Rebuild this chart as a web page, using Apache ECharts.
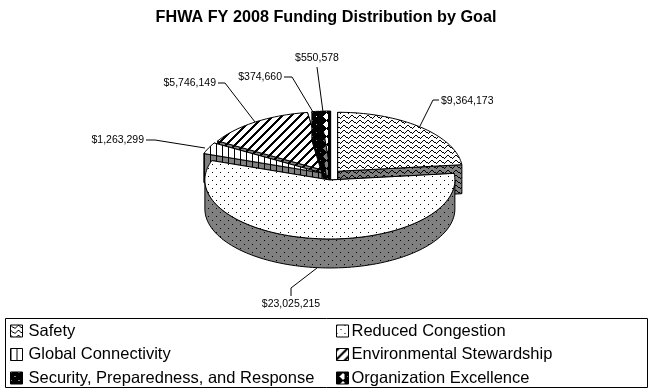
<!DOCTYPE html>
<html>
<head>
<meta charset="utf-8">
<style>html,body{margin:0;padding:0;background:#fff}#main{width:652px;height:392px}</style>
<script src="https://cdn.jsdelivr.net/npm/echarts@6/dist/echarts.min.js"></script>
</head>
<body>
<div id="main"></div>
<script>
// data
var categories = ['Safety', 'Reduced Congestion', 'Global Connectivity', 'Environmental Stewardship', 'Security, Preparedness, and Response', 'Organization Excellence'];
var funding = [9364173, 23025215, 1263299, 5746149, 374660, 550578];
var chartTitle = 'FHWA FY 2008 Funding Distribution by Goal';

// layout of the tilted pie
var cx = 331, cy = 175, rx = 125, ry = 59, depth = 29, explode = 10, tilt = 0.5;
// back slices first, Reduced Congestion goes on top of everything
var drawOrder = [3, 4, 5, 2, 0, 1];
// leader line bends and where the label sits, same order as categories
var leaders = [
    {bends: [[433, 100], [439, 100]], text: [441, 101], align: 'left', anchor: [420, 126]},
    {bends: [[291, 288], [291, 296]], text: [291, 304], align: 'center', anchor: [317, 268]},
    {bends: [[155, 140], [146, 140]], text: [144, 140], align: 'right', anchor: [205, 148]},
    {bends: [[225, 83], [218, 83]], text: [216, 83], align: 'right', anchor: [255, 122]},
    {bends: [[292, 77], [284, 77]], text: [282, 77], align: 'right', anchor: [313, 112]},
    {bends: [[317, 67]], text: [317, 58], align: 'center', anchor: [323, 112]}
];

function tile(w, h, bg, fg, test) {
    var c = document.createElement('canvas');
    c.width = w;
    c.height = h;
    var ctx = c.getContext('2d');
    ctx.fillStyle = bg;
    ctx.fillRect(0, 0, w, h);
    ctx.fillStyle = fg;
    for (var y = 0; y < h; y++) {
        for (var x = 0; x < w; x++) {
            if (test(x, y)) ctx.fillRect(x, y, 1, 1);
        }
    }
    return {image: c, repeat: 'repeat'};
}

var zig = [0, 1, 2, 2, 3, 2, 1, 0];
function waveTest(x, y) { return zig[x] === y; }
function dotTest(x, y) { return (x === 0 && y === 0) || (x === 4 && y === 4); }
function stripeTest(x) { return x === 0; }
function diagTest(x, y) { return (x + y) % 9 < 3; }
function diamondTest(x, y) { return Math.abs(x - 6 > 3 ? x - 14 : x - 6) + Math.abs(y - 4) > 3; }

var topFill = [
    tile(8, 5, '#fff', '#000', waveTest),
    tile(8, 8, '#fff', '#000', dotTest),
    tile(6, 1, '#fff', '#000', stripeTest),
    tile(9, 9, '#fff', '#000', diagTest),
    tile(8, 8, '#000', '#fff', dotTest),
    tile(8, 8, '#fff', '#000', diamondTest)
];
var sideFill = [
    tile(8, 5, '#808080', '#000', waveTest),
    tile(8, 8, '#808080', '#000', dotTest),
    tile(6, 1, '#808080', '#000', stripeTest),
    tile(9, 9, '#808080', '#000', diagTest),
    tile(8, 8, '#000', '#808080', dotTest),
    tile(8, 8, '#808080', '#000', diamondTest)
];

var total = funding.reduce(function (a, b) { return a + b; }, 0);
var starts = [], acc = 0;
funding.forEach(function (v) {
    starts.push(acc / total * 360);
    acc += v;
});

function money(v) {
    return '$' + String(v).replace(/\B(?=(\d{3})+$)/g, ',');
}

function onRim(ox, oy, deg) {
    var a = deg * Math.PI / 180;
    return [ox + rx * Math.sin(a), oy - ry * Math.cos(a)];
}

function arcPoints(ox, oy, from, to) {
    var pts = [];
    var n = Math.max(2, Math.ceil((to - from) / 2));
    for (var i = 0; i <= n; i++) pts.push(onRim(ox, oy, from + (to - from) * i / n));
    return pts;
}

function lowered(pts) {
    return pts.map(function (p) { return [p[0], p[1] + depth]; }).reverse();
}

function poly(points, fill) {
    return {
        type: 'polygon',
        shape: {points: points},
        style: {fill: fill, stroke: '#000', lineWidth: 1}
    };
}

function renderSlice(i, value) {
    var share = value / total * 360;
    var from = starts[i], to = from + share;
    var mid = (from + to) / 2 * Math.PI / 180;
    var ox = cx + explode * Math.sin(mid);
    var oy = cy - explode * tilt * Math.cos(mid);
    var apex = [ox, oy];
    var children = [];
    // the two cut faces
    var a = onRim(ox, oy, to), b = onRim(ox, oy, from);
    children.push(poly([apex, a, [a[0], a[1] + depth], [ox, oy + depth]], sideFill[i]));
    children.push(poly([apex, b, [b[0], b[1] + depth], [ox, oy + depth]], sideFill[i]));
    // outer wall, only the part facing the viewer
    var wallFrom = Math.max(from, 90), wallTo = Math.min(to, 270);
    if (wallTo > wallFrom) {
        var arc = arcPoints(ox, oy, wallFrom, wallTo);
        children.push(poly(arc.concat(lowered(arc)), sideFill[i]));
    }
    children.push(poly([apex].concat(arcPoints(ox, oy, from, to)), topFill[i]));
    return children;
}

function renderLeader(i, value) {
    var l = leaders[i];
    return [{
        type: 'polyline',
        shape: {points: [l.anchor].concat(l.bends)},
        style: {fill: 'none', stroke: '#000', lineWidth: 1}
    }, {
        type: 'text',
        style: {
            x: l.text[0], y: l.text[1], text: money(value),
            font: '10.5px "Liberation Sans"', fill: '#000',
            align: l.align, verticalAlign: 'middle'
        }
    }];
}

var series = categories.map(function (name, i) {
    return {
        name: name,
        type: 'custom',
        coordinateSystem: 'none',
        z: 2 + drawOrder.indexOf(i),
        silent: true,
        animation: false,
        data: [funding[i]],
        renderItem: function (params, api) {
            var v = api.value(0);
            return {type: 'group', children: renderSlice(i, v).concat(renderLeader(i, v))};
        }
    };
});

function legendItem(i) {
    return {
        name: categories[i],
        icon: 'rect',
        itemStyle: {color: topFill[i], borderColor: '#000', borderWidth: 1}
    };
}

function legendColumn(left, textPad, ids) {
    return {
        orient: 'vertical',
        left: left,
        top: 322,
        padding: 0,
        itemWidth: 12,
        itemHeight: 12,
        itemGap: 5.5,
        itemStyle: {borderColor: '#000', borderWidth: 1},
        selectedMode: false,
        textStyle: {color: '#000', fontFamily: '"Liberation Sans"', fontSize: 16.5, lineHeight: 18, padding: [0, 0, 0, textPad]},
        data: ids.map(legendItem)
    };
}

var myChart = echarts.init(document.getElementById('main'), null, {renderer: 'canvas'});
myChart.setOption({
    backgroundColor: '#fff',
    animation: false,
    title: {
        text: chartTitle,
        left: 321,
        textAlign: 'center',
        top: 5,
        textStyle: {color: '#000', fontFamily: '"Liberation Sans"', fontSize: 16.2, fontWeight: 'bold'}
    },
    legend: [legendColumn(10, 1, [0, 2, 4]), legendColumn(336, -2, [1, 3, 5])],
    graphic: [{
        type: 'rect',
        silent: true,
        shape: {x: 5.5, y: 318.5, width: 642, height: 69},
        style: {fill: 'none', stroke: '#000', lineWidth: 1}
    }],
    series: series
});
</script>
</body>
</html>
